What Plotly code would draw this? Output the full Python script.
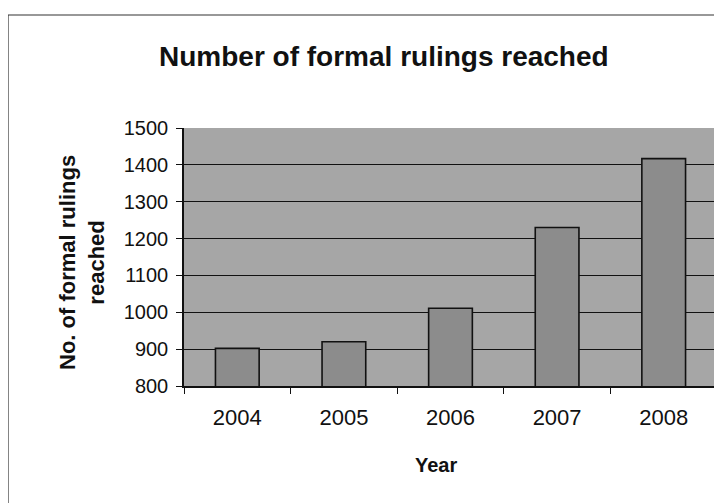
import plotly.graph_objects as go

years = ["2004", "2005", "2006", "2007", "2008"]
rulings = [902, 920, 1011, 1230, 1417]
y_ticks = [800, 900, 1000, 1100, 1200, 1300, 1400, 1500]

# page body adds an 8px offset; work in reference pixel coords and shift
OFF = 8
W, H = 722 - OFF, 503 - OFF
L, R, T, B = 184 - OFF, 5, 128 - OFF, 117
pw, ph = W - L - R, H - T - B

def px(x):
    return (x - OFF - L) / pw

def py(y):
    return (H - B - (y - OFF)) / ph

FONT = "Liberation Sans, Arial, sans-serif"

fig = go.Figure()
fig.add_trace(go.Bar(
    x=years, y=rulings,
    marker=dict(color="#8c8c8c", line=dict(color="#111111", width=1.6)),
    width=0.41,
))

fig.update_layout(
    width=W, height=H,
    margin=dict(l=L, r=R, t=T, b=B, pad=0),
    paper_bgcolor="white",
    plot_bgcolor="#a6a6a6",
    showlegend=False,
    font=dict(family=FONT, color="#111111"),
    xaxis=dict(
        type="category",
        tickfont=dict(size=22, family=FONT, color="#111111"),
        showline=True, linecolor="#111111", linewidth=1.5,
        ticks="outside", ticklen=6, tickcolor="#111111", tickson="boundaries",
        ticklabelstandoff=11,
        showgrid=False, mirror=False,
    ),
    yaxis=dict(
        range=[800, 1500],
        tickvals=y_ticks,
        tickfont=dict(size=20, family=FONT, color="#111111"),
        showline=True, linecolor="#111111", linewidth=1.5,
        ticks="outside", ticklen=6, tickcolor="#111111",
        ticklabelstandoff=4,
        showgrid=True, gridcolor="#111111", gridwidth=1,
        zeroline=False,
    ),
    shapes=[
        dict(type="rect", xref="paper", yref="paper",
             x0=px(8), x1=px(740), y0=py(15), y1=py(520),
             line=dict(color="#333333", width=1.2), fillcolor="rgba(0,0,0,0)",
             layer="below"),
    ],
    annotations=[
        dict(text="<b>Number of formal rulings reached</b>", xref="paper", yref="paper",
             x=px(384), y=py(57), xanchor="center", yanchor="middle",
             showarrow=False, font=dict(size=28, family=FONT, color="#111111")),
        dict(text="<b>Year</b>", xref="paper", yref="paper",
             x=px(436), y=py(465), xanchor="center", yanchor="middle",
             showarrow=False, font=dict(size=20, family=FONT, color="#111111")),
        dict(text="<b>No. of formal rulings<br>reached</b>", xref="paper", yref="paper",
             x=px(82), y=py(263), xanchor="center", yanchor="middle", textangle=-90,
             showarrow=False, font=dict(size=22, family=FONT, color="#111111")),
    ],
)

fig.write_html("out.html")
